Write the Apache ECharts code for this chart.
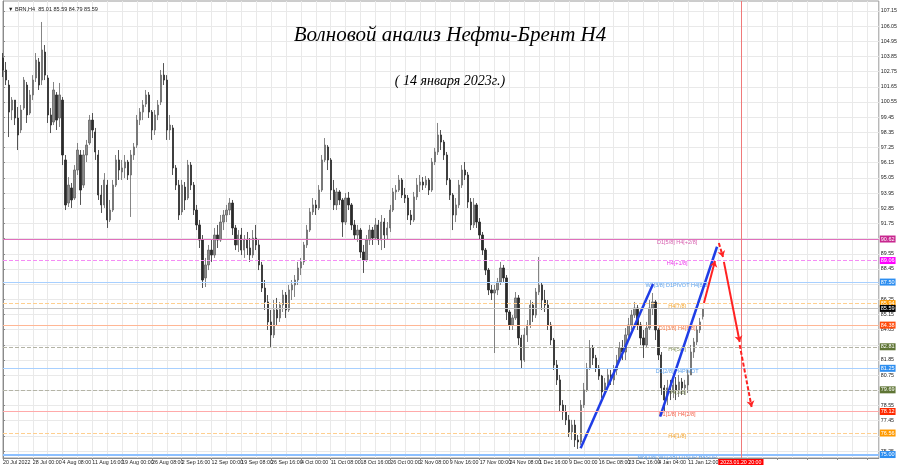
<!DOCTYPE html>
<html><head><meta charset="utf-8">
<script src="https://cdn.jsdelivr.net/npm/echarts@6/dist/echarts.min.js"></script>
<style>html,body{margin:0;padding:0;background:#fff}#c{width:900px;height:468px}</style>
</head><body><div id="c"></div>
<script>
const symbolInfo = '\u25BC BRN,H4  85.01 85.59 84.79 85.59';
const titleText = 'Волновой анализ Нефти-Брент H4';
const subtitleText = '( 14 января 2023г.)';
const xTickLabels = ['20 Jul 2022','28 Jul 00:00','4 Aug 08:00','11 Aug 16:00','19 Aug 00:00','26 Aug 08:00','2 Sep 16:00','12 Sep 00:00','19 Sep 08:00','26 Sep 16:00','4 Oct 00:00','11 Oct 08:00','18 Oct 16:00','26 Oct 00:00','2 Nov 08:00','9 Nov 16:00','17 Nov 00:00','24 Nov 08:00','1 Dec 16:00','9 Dec 00:00','16 Dec 08:00','23 Dec 16:00','4 Jan 04:00','11 Jan 12:00'];
const totalSlots = 295;
const priceTicks = [107.15,106.05,104.95,103.85,102.75,101.65,100.55,99.45,98.35,97.25,96.15,95.05,93.95,92.85,91.75,90.65,89.55,88.45,87.35,86.25,85.15,84.05,82.95,81.85,80.75,79.65,78.55,77.45,76.35,75.25];
const priceTickLabels = [107.15,106.05,104.95,103.85,102.75,101.65,100.55,99.45,98.35,97.25,96.15,95.05,93.95,92.85,91.75,89.55,88.45,86.25,85.15,84.05,81.85,80.75,78.55,77.45,75.25];
// [open, close, low, high]
const bars = [
[103.74,102.87,102.36,104.10],[102.87,102.14,101.78,103.45],[101.78,99.82,98.01,102.14],[99.97,100.69,99.24,100.91],[100.69,99.39,98.88,100.69],
[99.39,98.16,97.07,100.19],[98.52,99.97,98.30,100.33],[100.11,102.14,99.97,102.36],[101.78,99.61,99.03,102.00],[99.75,101.06,99.61,101.42],
[101.06,102.14,100.69,102.50],[102.29,103.59,102.00,104.10],[103.45,101.78,101.42,103.74],[102.14,104.32,101.78,106.35],[104.17,102.50,102.14,104.68],
[102.29,99.61,99.03,102.50],[99.61,98.88,98.30,100.11],[99.10,101.42,98.88,102.00],[101.06,99.24,98.52,101.27],[99.39,101.06,98.74,101.93],
[100.69,96.71,95.98,100.91],[96.35,93.09,92.72,96.71],[93.23,94.53,92.94,95.11],[94.32,93.45,92.87,94.68],[93.59,95.62,93.45,95.98],
[95.62,97.07,95.26,97.58],[96.71,94.17,93.09,97.07],[94.53,96.71,94.32,97.07],[96.71,97.43,96.20,97.80],[97.58,99.24,97.43,99.61],
[99.24,98.52,97.94,99.75],[98.38,96.93,96.35,98.67],[96.71,93.81,93.45,97.07],[93.81,93.09,92.51,94.53],[93.09,94.90,92.87,95.40],
[94.53,92.00,91.42,94.90],[92.00,92.72,91.85,93.45],[92.72,94.53,92.58,94.90],[94.53,96.35,94.39,96.71],[96.35,95.62,94.90,97.07],
[95.48,95.77,94.90,96.35],[95.77,96.20,95.04,96.71],[96.20,95.26,94.90,96.35],[95.26,96.71,92.22,97.07],[96.71,97.29,96.35,97.58],
[97.43,99.24,97.22,99.61],[99.24,99.82,98.88,100.11],[99.82,100.33,99.24,100.69],[100.40,101.06,100.19,101.42],[101.06,99.82,99.39,101.27],
[99.82,98.52,97.80,99.97],[98.52,99.61,98.16,99.97],[99.61,100.33,99.24,100.69],[100.55,102.50,100.33,102.87],[102.50,102.14,101.78,103.37],
[102.14,98.52,97.80,102.50],[98.52,98.88,97.80,99.61],[98.67,95.77,95.26,98.88],[95.77,94.53,94.17,95.98],[94.53,92.36,92.00,94.90],
[92.58,94.53,92.36,94.90],[94.39,93.45,92.72,94.75],[93.59,95.98,93.45,96.35],[95.98,94.53,94.17,96.20],[94.53,92.72,92.36,94.75],
[92.72,91.64,91.27,93.09],[91.64,90.55,89.97,92.00],[90.55,87.65,87.07,90.91],[87.80,88.74,87.14,89.25],[88.74,89.82,88.37,90.19],
[89.82,89.46,88.96,90.55],[89.46,90.91,89.25,91.42],[90.91,90.55,89.97,91.64],[90.55,91.85,90.41,92.36],[91.85,92.36,91.27,92.72],
[92.36,92.72,91.85,93.09],[92.72,93.23,92.36,93.59],[93.23,91.42,90.91,93.45],[91.42,90.19,89.82,91.64],[90.19,90.91,89.68,91.27],
[90.91,89.82,89.46,91.42],[89.82,90.55,89.25,90.91],[90.55,89.97,89.46,91.13],[89.97,89.46,88.96,90.69],[89.46,90.69,89.25,91.27],
[90.69,90.19,89.82,91.64],[90.19,88.74,88.37,90.55],[88.74,87.07,86.78,88.96],[87.07,86.06,85.48,87.65],[86.06,84.61,84.03,86.56],
[84.61,83.67,82.80,85.48],[83.67,85.48,83.45,86.20],[85.48,84.90,84.39,86.35],[84.90,85.84,84.61,86.06],[85.84,86.56,85.33,86.93],
[86.56,85.48,84.90,86.78],[85.48,86.93,85.33,87.29],[86.93,87.29,86.20,87.65],[87.29,87.65,86.42,88.01],[87.65,88.52,87.29,88.96],
[88.52,88.96,88.01,89.25],[88.96,90.19,88.74,90.41],[90.19,91.27,89.97,91.64],[91.27,92.58,91.13,92.87],[92.58,93.09,92.36,93.59],
[93.09,92.87,92.36,93.45],[92.87,94.17,92.72,94.53],[94.17,96.35,94.03,96.71],[96.35,97.43,96.20,97.94],[97.29,96.35,95.62,97.43],
[96.35,94.17,93.45,96.49],[94.17,93.09,92.72,94.90],[93.09,94.03,92.72,94.32],[94.03,93.45,93.09,94.17],[93.45,91.85,90.77,93.59],
[91.85,93.59,91.64,93.95],[93.59,93.09,92.72,94.03],[93.09,91.64,91.27,93.23],[91.64,90.91,90.55,92.00],[90.91,91.27,90.41,91.64],
[91.27,89.68,89.25,91.42],[89.68,89.10,88.16,90.19],[89.10,90.55,88.96,90.91],[90.55,91.27,90.19,91.64],[91.27,90.69,90.19,91.49],
[90.69,91.64,90.55,92.14],[91.64,90.55,90.19,92.00],[90.55,91.85,89.82,92.36],[91.85,90.91,89.97,92.14],[90.91,91.42,90.55,91.85],
[91.42,92.72,91.13,93.09],[92.72,94.03,92.58,94.32],[94.03,94.17,93.45,94.53],[94.17,94.90,94.03,95.26],[94.90,93.81,93.59,95.04],
[93.81,93.59,93.23,94.32],[93.59,92.36,92.00,93.81],[92.36,92.00,91.64,92.72],[92.00,93.67,91.85,94.03],[93.67,94.53,93.45,95.04],
[94.53,94.75,94.03,95.26],[94.75,94.53,94.17,95.11],[94.53,94.90,94.32,95.19],[94.90,94.17,93.81,95.04],[94.17,96.20,94.03,96.49],
[96.20,96.93,95.98,97.22],[96.93,98.16,96.71,99.03],[98.16,97.65,97.07,98.52],[97.65,96.71,96.35,97.80],[96.71,94.90,94.53,96.93],
[94.90,93.81,93.45,95.04],[93.81,92.36,91.27,93.95],[92.36,93.09,91.85,93.59],[93.09,94.53,92.87,94.90],[94.53,95.62,94.32,95.98],
[95.62,95.26,94.90,96.20],[95.26,93.30,92.87,95.48],[93.30,91.64,91.27,93.59],[91.64,93.09,91.42,93.59],[93.09,91.85,91.42,93.23],
[91.85,90.91,90.55,92.14],[90.91,89.82,89.46,91.13],[89.82,88.37,88.01,89.97],[88.37,86.93,86.56,88.52],[86.93,86.71,86.20,87.29],
[86.71,86.93,82.36,87.29],[86.93,87.51,86.56,87.80],[87.51,88.52,87.29,88.96],[88.52,87.80,87.51,88.74],[87.80,85.33,84.75,88.01],
[85.33,84.39,84.03,85.48],[84.39,84.90,84.03,85.11],[84.90,86.35,84.75,86.78],[86.35,83.45,82.94,86.56],[83.45,81.85,81.27,83.67],
[81.85,83.67,81.71,84.17],[83.67,84.39,83.16,84.75],[84.39,85.84,84.17,86.20],[85.84,85.11,84.61,86.06],[85.11,86.78,84.90,87.07],
[86.78,87.29,86.56,89.32],[87.29,86.20,85.48,87.43],[86.20,85.84,85.33,86.93],[85.84,84.39,84.03,86.20],[84.39,83.30,82.94,84.61],
[83.30,81.49,81.13,83.45],[81.49,80.41,80.04,81.85],[80.41,78.59,78.09,80.77],[78.59,78.09,77.51,78.95],[78.09,77.51,77.14,78.59],
[77.51,76.64,76.27,77.87],[76.64,77.14,76.06,77.51],[77.14,76.06,75.55,77.51],[76.06,75.91,75.41,76.42],[75.91,78.59,75.70,78.95],
[78.59,79.68,78.38,80.19],[79.68,81.27,79.54,81.64],[81.27,82.72,81.13,83.30],[82.72,82.00,81.49,82.94],[82.00,81.27,80.98,82.22],
[81.27,80.69,80.41,81.49],[80.69,79.54,79.10,80.77],[79.54,80.19,79.32,80.55],[80.19,80.77,79.83,81.27],[80.77,80.41,80.04,81.13],
[80.41,81.13,80.04,81.49],[81.13,81.85,80.77,82.22],[81.85,82.72,81.71,83.16],[82.72,82.43,81.85,83.30],[82.43,83.67,81.85,84.17],
[83.67,84.39,83.30,84.90],[84.39,85.11,84.03,85.48],[85.11,85.62,84.90,86.06],[85.62,84.39,84.03,85.84],[84.39,83.45,82.94,84.61],
[83.45,82.94,82.00,84.03],[82.94,84.17,82.72,84.61],[84.17,85.62,84.03,86.20],[85.62,86.06,85.11,86.71],[86.06,84.03,83.30,86.20],
[84.03,82.22,81.85,84.17],[82.22,79.83,79.32,82.43],[79.83,78.95,78.09,80.04],[78.95,79.83,78.59,80.41],[79.83,79.54,78.95,80.41],
[79.54,80.04,79.10,80.41],[80.04,79.68,78.95,80.62],[79.68,80.26,79.17,80.77],[80.26,79.83,79.32,80.55],[79.83,80.04,79.32,80.41],
[80.04,80.77,79.46,81.13],[80.77,82.43,80.77,82.94],[82.43,83.16,82.00,83.45],[83.16,84.03,82.94,84.39],[84.03,84.61,83.81,84.90],
[85.01,85.59,84.79,85.59]
];
const lastPrice = 85.59;
const levelValues = [90.62, 89.06, 87.50, 85.94, 84.38, 82.81, 81.25, 79.69, 78.12, 76.56, 75.00];
const levelTexts = ['D1[5/8] H4[+2/8]','H4[+1/8]','W1[3/8] D1PIVOT H4[8/8]','H4[7/8]','D1[3/8] H4[6/8]','H4[5/8]','D1[2/8] H4PIVOT','H4[3/8]','D1[1/8] H4[2/8]','H4[1/8]','MN[1/8] W1[2/8] D1SUP H4SUP'];
const levelTextSlot = 226.3;
const trendUp1 = [[193.9, 75.46], [218.2, 87.36]];
const trendUp2 = [[220.6, 77.75], [239.7, 90.06]];
const forecastSolid = [[[235.3, 85.98], [239.0, 89.03]], [[242.0, 88.96], [247.3, 83.16]]];
const forecastDashed = [[[240.3, 90.33], [241.7, 89.32]], [[247.3, 82.94], [251.3, 78.45]]];
const markerSlot = 247.7;
const markerLabel = '2023.01.20 20:00';

// styles (separate from data)
const levelStyles = [
  {line:'#e070bd', type:'solid', bg:'#c8278f', txt:'#cc3399', w:1},
  {line:'#f58cf5', type:'dashed', bg:'#ff00ff', txt:'#e600e6', w:1},
  {line:'#a8d0ff', type:'solid', bg:'#2d8ef0', txt:'#3b8fe8', w:1},
  {line:'#ffcf8f', type:'dashed', bg:'#ff9a00', txt:'#f39200', w:1},
  {line:'#ffb795', type:'solid', bg:'#ff4a0a', txt:'#f25a1a', w:1},
  {line:'#b4b4a6', type:'dashed', bg:'#5f7535', txt:'#6b7d3a', w:1},
  {line:'#a8d0ff', type:'solid', bg:'#2d8ef0', txt:'#3b8fe8', w:1},
  {line:'#b4b4a6', type:'dashed', bg:'#5f7535', txt:'#6b7d3a', w:1},
  {line:'#ffaaaa', type:'solid', bg:'#ff2a00', txt:'#f03a1a', w:1},
  {line:'#ffcf8f', type:'dashed', bg:'#ff9a00', txt:'#f39200', w:1},
  {line:'#8dc0ff', type:'solid', bg:'#2d8ef0', txt:'#3b8fe8', w:2}
];
const FONT = 'Liberation Sans';
const NARROW = "'Liberation Sans Narrow', 'Arial Narrow', 'Liberation Sans'";

const cats = [];
for (let i = 0; i < totalSlots; i++) cats.push(i % 10 === 0 && xTickLabels[i / 10] ? xTickLabels[i / 10] : '');

const levelMarks = levelValues.map((v, k) => ({
  yAxis: v,
  lineStyle: {color: levelStyles[k].line, type: levelStyles[k].type, width: levelStyles[k].w},
  label: {show: true, position: 'end', distance: 1, formatter: v.toFixed(2), color: '#fff',
    backgroundColor: levelStyles[k].bg, padding: [1, 1, 0, 1], fontSize: 5.5, fontFamily: FONT}
}));
levelMarks.push({
  yAxis: lastPrice,
  lineStyle: {color: '#c4c4c4', type: 'solid', width: 1},
  label: {show: true, position: 'end', distance: 1, formatter: lastPrice.toFixed(2), color: '#fff',
    backgroundColor: '#000', padding: [1, 1, 0, 1], fontSize: 5.5, fontFamily: FONT}
});

const levelLabelData = levelValues.map((v, k) => ({
  value: [levelTextSlot, v], name: levelTexts[k],
  label: {color: levelStyles[k].txt}
}));

function segs(list) {
  return list.map(s => [{coord: s[0]}, {coord: s[1]}]);
}

const option = {
  animation: false,
  backgroundColor: '#ffffff',
  title: [
    {text: titleText, left: 'center', top: 20, textStyle: {fontFamily: 'Liberation Serif', fontStyle: 'italic', fontWeight: 'normal', fontSize: 21, color: '#000'}},
    {text: subtitleText, left: 'center', top: 69, textStyle: {fontFamily: 'Liberation Serif', fontStyle: 'italic', fontWeight: 'normal', fontSize: 14, color: '#000'}},
    {text: symbolInfo, left: 3, top: 1, textStyle: {fontFamily: FONT, fontWeight: 'normal', fontSize: 5.5, color: '#222'}}
  ],
  grid: {left: 1, right: 17, top: 1, bottom: 10, show: true, borderColor: '#9a9a9a', borderWidth: 1, backgroundColor: '#fff'},
  xAxis: [
    {type: 'category', data: cats, boundaryGap: false,
      axisLine: {show: true, lineStyle: {color: '#8a8a8a'}},
      axisTick: {show: true, interval: 9, length: 2, lineStyle: {color: '#8a8a8a'}},
      axisLabel: {interval: 9, align: 'left', margin: 2, fontSize: 5.3, color: '#222', fontFamily: NARROW, hideOverlap: false},
      splitLine: {show: true, interval: 4, lineStyle: {color: '#e9e9e9', width: 1}}
    },
    {type: 'value', min: 0, max: totalSlots - 1, show: false, gridIndex: 0}
  ],
  yAxis: {
    type: 'value', position: 'right', min: 74.75, max: 107.87, scale: true,
    axisLine: {show: true, lineStyle: {color: '#8a8a8a'}},
    axisTick: {show: true, length: 2, customValues: priceTicks, lineStyle: {color: '#8a8a8a'}},
    axisLabel: {customValues: priceTickLabels, formatter: v => v.toFixed(2), margin: 2, fontSize: 5.3, color: '#222', fontFamily: FONT, showMinLabel: true, showMaxLabel: true},
    splitLine: {show: true, lineStyle: {color: '#e9e9e9', width: 1}}
  },
  series: [
    {type: 'line', xAxisIndex: 1, data: [], silent: true, z: 3,
      markLine: {symbol: 'none', silent: true, animation: false, data: levelMarks}},
    {type: 'line', xAxisIndex: 1, data: [], silent: true,
      markLine: {symbol: 'none', silent: true, animation: false,
        lineStyle: {color: '#f07a7a', type: 'solid', width: 1},
        label: {show: true, position: 'start', distance: 1, formatter: markerLabel, color: '#fff', backgroundColor: '#ff0000', padding: [1, 2, 0, 2], fontSize: 5.3, fontFamily: NARROW},
        data: [{xAxis: markerSlot}]}},
    {type: 'candlestick', xAxisIndex: 0, data: bars, barWidth: 1.8, silent: true,
      itemStyle: {color: '#8c8c8c', color0: '#2a2a2a', borderColor: '#666', borderColor0: '#2a2a2a', borderWidth: 0.8}},
    {type: 'line', xAxisIndex: 1, data: trendUp1, symbol: 'none', silent: true, lineStyle: {color: '#1f3de6', width: 2.5}},
    {type: 'line', xAxisIndex: 1, data: trendUp2, symbol: 'none', silent: true, lineStyle: {color: '#1f3de6', width: 2.5}},
    {type: 'line', xAxisIndex: 1, data: [], silent: true,
      markLine: {symbol: ['none', 'arrow'], symbolSize: 6, silent: true, animation: false, label: {show: false},
        lineStyle: {color: '#ff2222', type: 'solid', width: 2}, data: segs(forecastSolid)}},
    {type: 'line', xAxisIndex: 1, data: [], silent: true,
      markLine: {symbol: ['none', 'arrow'], symbolSize: 6, silent: true, animation: false, label: {show: false},
        lineStyle: {color: '#ff2222', type: [4, 2], width: 2}, data: segs(forecastDashed)}},
    {type: 'scatter', xAxisIndex: 1, data: levelLabelData, symbolSize: 0, silent: true,
      label: {show: true, position: 'bottom', distance: 0, formatter: '{b}', fontSize: 5.5, fontFamily: NARROW}}
  ]
};
const chart = echarts.init(document.getElementById('c'), null, {renderer: 'canvas'});
chart.setOption(option);
</script></body></html>
